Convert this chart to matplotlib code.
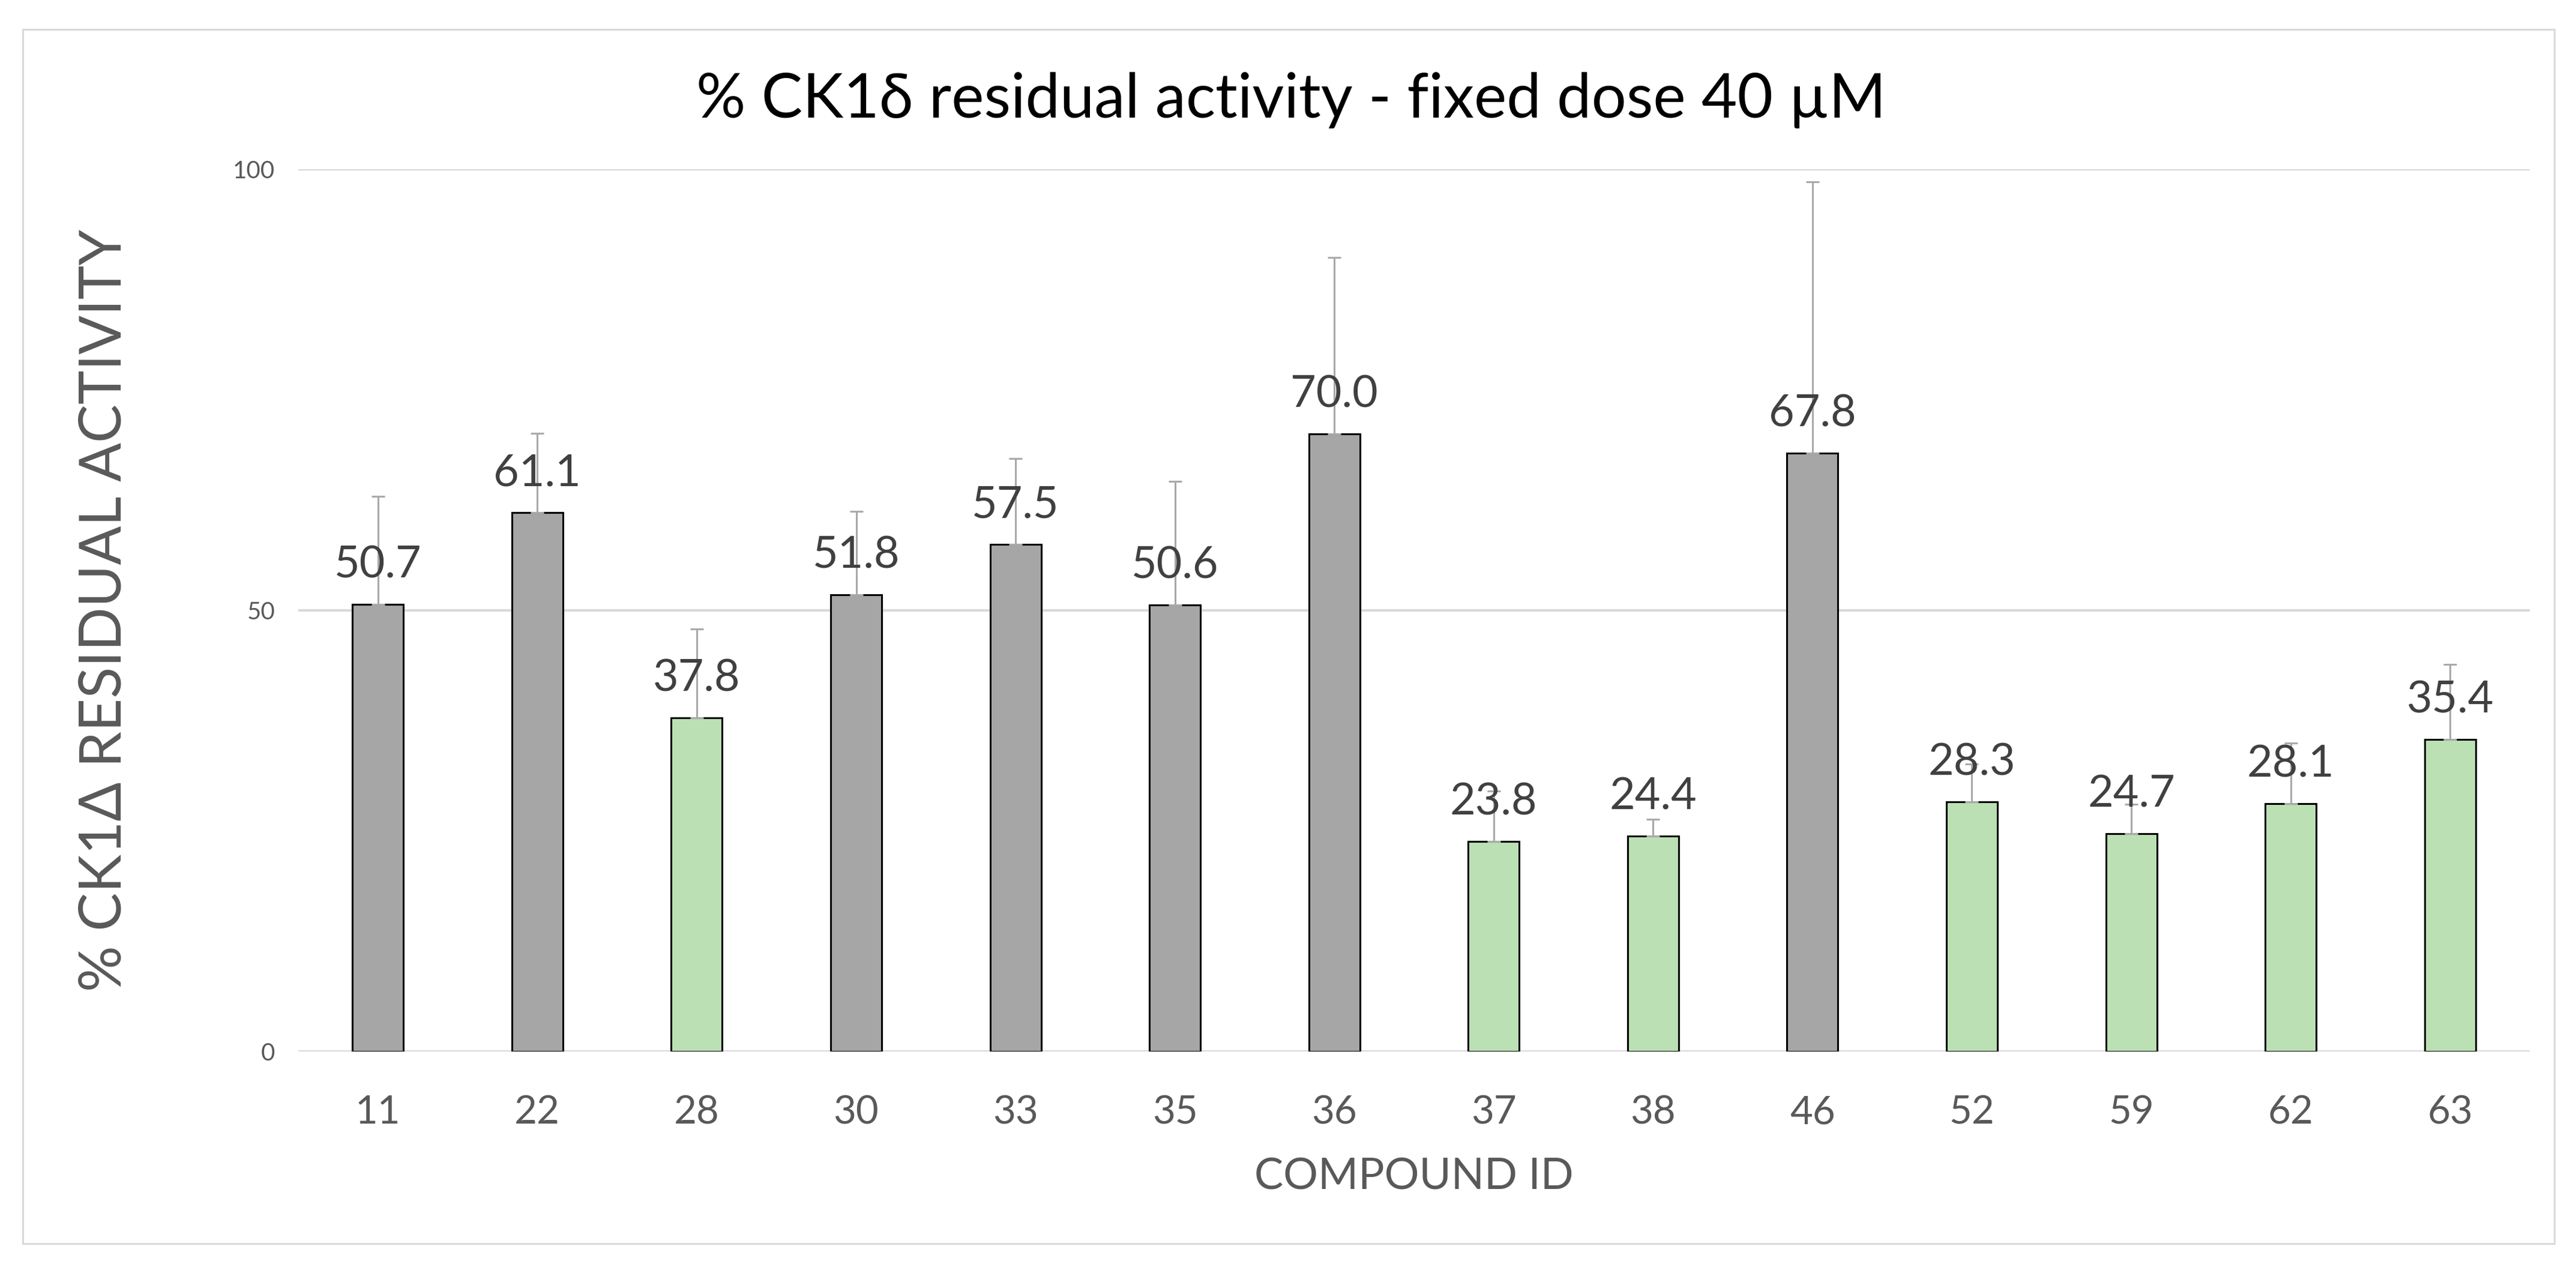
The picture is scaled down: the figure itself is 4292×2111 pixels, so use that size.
import numpy as np
import matplotlib
matplotlib.use("Agg")
import matplotlib.pyplot as plt
from matplotlib.patches import Rectangle

# data
compounds = ["11", "22", "28", "30", "33", "35", "36", "37", "38", "46", "52", "59", "62", "63"]
activity = [50.7, 61.1, 37.8, 51.8, 57.5, 50.6, 70.0, 23.8, 24.4, 67.8, 28.3, 24.7, 28.1, 35.4]
err_up = [12.2, 9.0, 10.1, 9.4, 9.7, 14.0, 20.0, 5.7, 1.9, 30.8, 4.3, 3.3, 6.9, 8.5]
is_active = [False, False, True, False, False, False, False, True, True, False, True, True, True, True]

GREY = "#a6a6a6"
GREEN = "#bbe0b4"
plt.rcParams['font.family'] = ['Lato', 'DejaVu Sans']

fig = plt.figure(figsize=(42.92, 21.11), dpi=100)
W, H = 4292, 2111
ax = fig.add_axes([497 / W, 1 - 1752 / H, (4215 - 497) / W, (1752 - 282) / H])

x = np.arange(len(compounds))
cols = [GREEN if a else GREY for a in is_active]
ax.bar(x, activity, width=0.32, color=cols, edgecolor="black", linewidth=2.2, zorder=3)
ax.errorbar(x, activity, yerr=[np.zeros(len(x)), err_up], fmt="none",
            ecolor="#a9a9a9", elinewidth=2.2, capsize=8, capthick=2.2, zorder=4)

for xi, v in zip(x, activity):
    ax.annotate(f"{v:.1f}", (xi, v), xytext=(0, 32), textcoords="offset points",
                ha="center", va="baseline", fontsize=53, color="#404040", zorder=5)

ax.set_xlim(-0.5, len(x) - 0.5)
ax.set_ylim(0, 100)
ax.set_yticks([0, 50, 100])
ax.set_xticks(x)
ax.set_xticklabels(compounds)
ax.tick_params(axis="x", length=0, pad=52, labelsize=47, labelcolor="#595959")
ax.tick_params(axis="y", length=0, pad=28, labelsize=29, labelcolor="#595959")
ax.grid(axis="y", color="#d9d9d9", linewidth=3, zorder=0)
for s in ax.spines.values():
    s.set_visible(False)

ax.set_xlabel("COMPOUND ID", fontsize=52, color="#595959")
ax.xaxis.set_label_coords(0.5, -0.12)
ax.set_ylabel("% CK1Δ RESIDUAL ACTIVITY", fontsize=69, color="#595959")
ax.yaxis.set_label_coords(-0.075, 0.5)

fig.text(2151 / W, 1 - 196 / H, "% CK1δ residual activity - fixed dose 40 µM",
         ha="center", va="baseline", fontsize=74, color="black")

fig.patches.append(Rectangle((38 / W, 1 - 2072 / H), (4256 - 38) / W, (2072 - 49) / H,
                             transform=fig.transFigure, fill=False,
                             edgecolor="#d9d9d9", linewidth=2.2))

fig.savefig("out.png", dpi=100, facecolor="white")
